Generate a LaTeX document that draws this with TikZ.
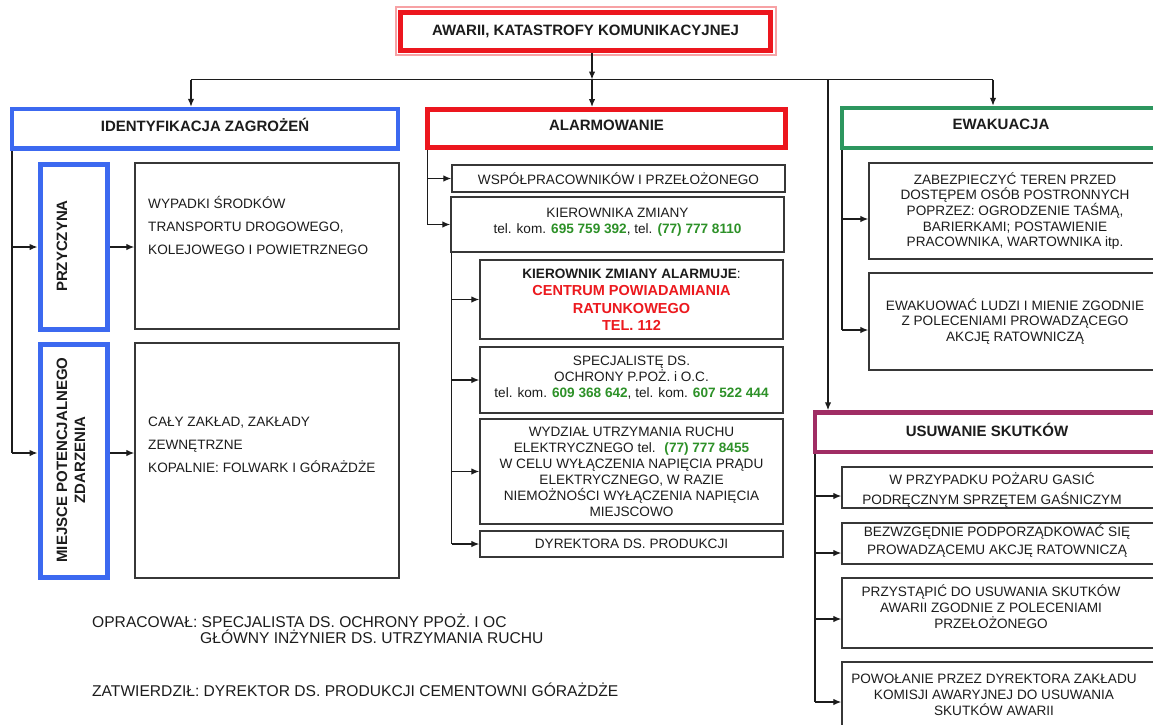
\documentclass[tikz,border=0pt]{standalone}
\usepackage{fontspec}
\setmainfont{Liberation Sans}
\usetikzlibrary{arrows.meta}
\definecolor{cblue}{RGB}{60,105,240}
\definecolor{cred}{RGB}{236,22,30}
\definecolor{cgreen}{RGB}{45,150,95}
\definecolor{cpurple}{RGB}{160,45,100}
\definecolor{ngreen}{RGB}{45,145,40}
\definecolor{tred}{RGB}{236,25,30}
\definecolor{bgray}{RGB}{55,55,55}
\definecolor{txt}{RGB}{28,28,28}
\newcommand{\gn}[1]{\textbf{\textcolor{ngreen}{#1}}}
\newcommand{\rdl}[1]{\textcolor{tred}{\fontsize{14.5}{17.5}\selectfont\bfseries #1}}
\begin{document}
\begin{tikzpicture}[x=1pt,y=-1pt,
  every node/.style={inner sep=0pt, text=txt},
  gbox/.style={draw=bgray, line width=1.4pt},
  body/.style={font=\fontsize{13.6}{16}\selectfont, align=center},
  ttl/.style={font=\fontsize{15}{17}\selectfont\bfseries, align=center},
  conn/.style={line width=1.3pt, draw=txt},
  arr/.style={conn, -{Latex[length=8pt,width=6.5pt]}},
]
\useasboundingbox (0,0) rectangle (1153,724);
\clip (0,0) rectangle (1153,724);
\fill[white] (0,0) rectangle (1153,724);

% ---------- top ----------
\draw[cred!40, line width=1.5pt] (396,7) rectangle (776,55);
\node[draw=cred, line width=5pt, minimum width=370, minimum height=38.5, ttl] (top) at (585.5,31.25) {AWARII, KATASTROFY KOMUNIKACYJNEJ};

% ---------- headers ----------
\node[draw=cblue, line width=4.5pt, minimum width=386, minimum height=39.5, ttl, text depth=7pt] (ident) at (205,128.75) {IDENTYFIKACJA ZAGROŻEŃ};
\node[draw=cred, line width=5pt, minimum width=358, minimum height=38, ttl, text depth=7pt] (alarm) at (606.5,128.5) {ALARMOWANIE};
\node[draw=cgreen, line width=4.5pt, minimum width=318, minimum height=40, ttl, text depth=7pt] (ewak) at (1001,128) {EWAKUACJA};
\node[draw=cpurple, line width=4.5pt, minimum width=344, minimum height=39.5, ttl, text depth=4pt] (usuw) at (987,432.25) {USUWANIE SKUTKÓW};

% ---------- left column ----------
\node[draw=cblue, line width=5pt, minimum width=67.5, minimum height=165] (prz) at (73.75,247) {};
\node[ttl, rotate=90] (przt) at (62,246) {PRZYCZYNA};
\node[draw=cblue, line width=5pt, minimum width=67.5, minimum height=233] (miej) at (73.75,461) {};
\node[ttl, rotate=90, font=\fontsize{15}{18}\selectfont\bfseries] (miejt) at (71,460) {MIEJSCE POTENCJALNEGO\\ZDARZENIA};
\node[gbox, minimum width=264, minimum height=166] (c1) at (267,246) {};
\node[anchor=west, align=left, font=\fontsize{13.6}{23}\selectfont] (c1t) at (148,225) {WYPADKI ŚRODKÓW\\TRANSPORTU DROGOWEGO,\\KOLEJOWEGO I POWIETRZNEGO};
\node[gbox, minimum width=264, minimum height=235] (c2) at (267,460.5) {};
\node[anchor=west, align=left, font=\fontsize{13.6}{23}\selectfont] (c2t) at (148,445) {CAŁY ZAKŁAD, ZAKŁADY\\ZEWNĘTRZNE\\KOPALNIE: FOLWARK I GÓRAŻDŻE};

% ---------- middle column ----------
\node[gbox, body, minimum width=333, minimum height=27] (wsp) at (618.5,178.5) {WSPÓŁPRACOWNIKÓW I PRZEŁOŻONEGO};
\node[gbox, body, font=\fontsize{13.6}{16.5}\selectfont, minimum width=333, minimum height=55, text depth=8pt] (kier) at (617.5,224.5) {KIEROWNIKA ZMIANY\\tel. kom. \gn{695 759 392}, tel. \gn{(77) 777 8110}};
\node[gbox, body, font=\fontsize{13.6}{17.5}\selectfont, minimum width=303, minimum height=79] (alarmuje) at (631.5,299.5) {\textbf{KIEROWNIK ZMIANY ALARMUJE}:\\\rdl{CENTRUM POWIADAMIANIA}\\\rdl{RATUNKOWEGO}\\\rdl{TEL. 112}};
\node[gbox, body, minimum width=303, minimum height=66, text depth=6pt] (spec) at (631.5,380) {SPECJALISTĘ DS.\\OCHRONY P.POŻ. i O.C.\\tel. kom. \gn{609 368 642}, tel. kom. \gn{607 522 444}};
\node[gbox, body, minimum width=303, minimum height=105] (wydz) at (631.5,471.5) {WYDZIAŁ UTRZYMANIA RUCHU\\ELEKTRYCZNEGO tel.~ \gn{(77) 777 8455}\\W CELU WYŁĄCZENIA NAPIĘCIA PRĄDU\\ELEKTRYCZNEGO, W RAZIE\\NIEMOŻNOŚCI WYŁĄCZENIA NAPIĘCIA\\MIEJSCOWO};
\node[gbox, body, minimum width=303, minimum height=26] (dyr) at (631.5,544) {DYREKTORA DS. PRODUKCJI};

% ---------- right column ----------
\node[gbox, body, font=\fontsize{13.6}{15.6}\selectfont, minimum width=292, minimum height=96] (ew1) at (1015,211) {ZABEZPIECZYĆ TEREN PRZED\\DOSTĘPEM OSÓB POSTRONNYCH\\POPRZEZ: OGRODZENIE TAŚMĄ,\\BARIERKAMI; POSTAWIENIE\\PRACOWNIKA, WARTOWNIKA itp.};
\node[gbox, body, font=\fontsize{13.6}{15.3}\selectfont, minimum width=292, minimum height=97] (ew2) at (1015,321.5) {EWAKUOWAĆ LUDZI I MIENIE ZGODNIE\\Z POLECENIAMI PROWADZĄCEGO\\AKCJĘ RATOWNICZĄ};

\node[gbox, minimum width=323, minimum height=41] (us1) at (1003.5,487.5) {};
\node[body, font=\fontsize{13.6}{20}\selectfont] (us1t) at (992,490) {W PRZYPADKU POŻARU GASIĆ\\PODRĘCZNYM SPRZĘTEM GAŚNICZYM};
\node[gbox, minimum width=323, minimum height=41] (us2) at (1003.5,543.5) {};
\node[body, font=\fontsize{13.6}{17.5}\selectfont] (us2t) at (997,541) {BEZWZGĘDNIE PODPORZĄDKOWAĆ SIĘ\\PROWADZĄCEMU AKCJĘ RATOWNICZĄ};
\node[gbox, minimum width=323, minimum height=70] (us3) at (1003.5,613) {};
\node[body] (us3t) at (991,607) {PRZYSTĄPIĆ DO USUWANIA SKUTKÓW\\AWARII ZGODNIE Z POLECENIAMI\\PRZEŁOŻONEGO};
\node[gbox, minimum width=323, minimum height=83] (us4) at (1003.5,703.5) {};
\node[body] (us4t) at (994,695) {POWOŁANIE PRZEZ DYREKTORA ZAKŁADU\\KOMISJI AWARYJNEJ DO USUWANIA\\SKUTKÓW AWARII};

% ---------- bottom texts ----------
\node[anchor=west, font=\fontsize{15.6}{16}\selectfont] (op1) at (92,621) {OPRACOWAŁ: SPECJALISTA DS. OCHRONY PPOŻ. I OC};
\node[anchor=west, font=\fontsize{15.6}{16}\selectfont] (op2) at (200,637) {GŁÓWNY INŻYNIER DS. UTRZYMANIA RUCHU};
\node[anchor=west, font=\fontsize{15.6}{16}\selectfont] (zat) at (92,690) {ZATWIERDZIŁ: DYREKTOR DS. PRODUKCJI CEMENTOWNI GÓRAŻDŻE};

% ---------- connectors: bus ----------
\coordinate (bM) at (592,79.5);
\coordinate (bL) at (191,79.5);
\coordinate (bU) at (828,79.5);
\coordinate (bR) at (993,79.5);
\draw[arr] (top.south -| bM) -- (bM);
\draw[conn] (bL) -- (bR);
\draw[arr] (bL) -- (bL |- ident.north);
\draw[arr] (bM) -- (bM |- alarm.north);
\draw[arr] (bR) -- (bR |- ewak.north);
\draw[arr] (bU) -- (bU |- usuw.north);

% left
\coordinate (iX) at (12,0);
\coordinate (iA) at (12,247);
\coordinate (iB) at (12,453);
\draw[conn] (ident.south -| iX) -- (iB);
\draw[arr] (iA) -- (iA -| prz.west);
\draw[arr] (iB) -- (iB -| miej.west);
\draw[arr] (prz.east |- iA) -- (iA -| c1.west);
\draw[arr] (miej.east |- iB) -- (iB -| c2.west);

% middle
\coordinate (aX) at (427.5,0);
\draw[conn] (alarm.south -| aX) -- (kier.west -| aX);
\draw[arr] (wsp.west -| aX) -- (wsp.west);
\draw[arr] (kier.west -| aX) -- (kier.west);
\coordinate (kX) at (451.5,0);
\draw[conn] (kier.south -| kX) -- (dyr.west -| kX);
\draw[arr] (alarmuje.west -| kX) -- (alarmuje.west);
\draw[arr] (spec.west -| kX) -- (spec.west);
\draw[arr] (wydz.west -| kX) -- (wydz.west);
\draw[arr] (dyr.west -| kX) -- (dyr.west);

% right
\coordinate (eX) at (842,0);
\coordinate (e1) at (842,219);
\coordinate (e2) at (842,330);
\draw[conn] (ewak.south -| eX) -- (e2);
\draw[arr] (e1) -- (e1 -| ew1.west);
\draw[arr] (e2) -- (e2 -| ew2.west);

\coordinate (uX) at (815,0);
\coordinate (u1) at (815,496);
\coordinate (u2) at (815,553);
\coordinate (u3) at (815,619);
\coordinate (u4) at (815,702);
\draw[conn] (usuw.south -| uX) -- (u4);
\draw[arr] (u1) -- (u1 -| us1.west);
\draw[arr] (u2) -- (u2 -| us2.west);
\draw[arr] (u3) -- (u3 -| us3.west);
\draw[arr] (u4) -- (u4 -| us4.west);
\end{tikzpicture}
\end{document}
